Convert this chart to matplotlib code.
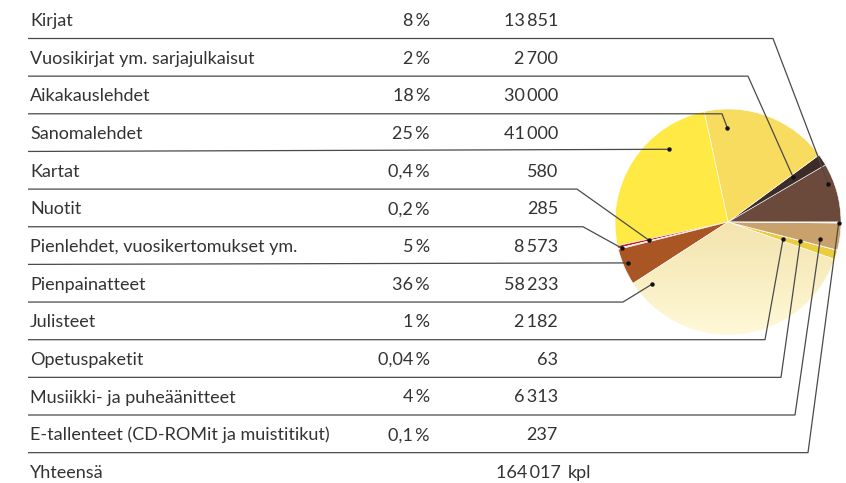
import matplotlib
matplotlib.use("Agg")
import matplotlib.pyplot as plt
import numpy as np
from matplotlib.colors import LinearSegmentedColormap

plt.rcParams.update({
    "font.family": ["Lato", "DejaVu Sans"],
    "font.size": 13,
})

TS = "\u2009"  # thin space, as in the printed table

# ── Data ──
labels = [
    "Kirjat", "Vuosikirjat ym. sarjajulkaisut", "Aikakauslehdet", "Sanomalehdet",
    "Kartat", "Nuotit", "Pienlehdet, vuosikertomukset ym.", "Pienpainatteet",
    "Julisteet", "Opetuspaketit", "Musiikki- ja puheäänitteet",
    "E-tallenteet (CD-ROMit ja muistitikut)",
]
pct_labels = ["8%", "2%", "18%", "25%", "0,4%", "0,2%", "5%", "36%",
              "1%", "0,04%", "4%", "0,1%"]
counts = [13851, 2700, 30000, 41000, 580, 285, 8573, 58233, 2182, 63, 6313, 237]
total_value = 164017
total_unit = "kpl"

colors = ["#6b4a3b", "#3d2b29", "#f8dc60", "#ffea45", "#c4142e", "#f3d2c8",
          "#a95624", "#fbf0c4", "#e9cd3c", "#d8b45a", "#c9a16c", "#f7ede4"]

# leader anchor: position inside wedge (angle fraction, radius fraction)
anchor_frac = [0.68, 0.73, 0.82, 0.30, 0.5, 0.5, 0.43, 0.05, 0.46, 0.5, 0.29, 0.5]
anchor_rad = [0.95, 0.70, 0.83, 0.83, 0.72, 0.97, 0.96, 0.87, 0.51, 0.66, 0.83, 0.98]
# x where the horizontal rule turns toward the pie (None = straight to anchor)
elbow_x = [773, 748, 722, None, 577, 583, None, 623, 765, 781, 795, 808]

W, H = 846, 483
fig = plt.figure(figsize=(W / 100, H / 100), dpi=100)
ax = fig.add_axes([0, 0, 1, 1])

def fy(y):
    return H - y

def fmt(n):
    return f"{n:,}".replace(",", TS)

CX, CY, R = 728, fy(222), 113
wedges, _ = ax.pie(counts, colors=colors, center=(CX, CY), radius=R,
                   startangle=0, counterclock=True, frame=True,
                   wedgeprops=dict(edgecolor="white", linewidth=0.4))

# gradient fill for the big pale slice
cmap = LinearSegmentedColormap.from_list("pale", ["#f2e2aa", "#fff9d8"])
grad = np.linspace(0, 1, 256).reshape(-1, 1)
img = ax.imshow(grad, cmap=cmap, extent=(CX - R, CX + R, CY - R, CY + 10),
                origin="upper", aspect="auto", zorder=1.5)
img.set_clip_path(wedges[7])
wedges[7].set_facecolor("none")
wedges[7].set_zorder(2)

ax.set_xlim(0, W)
ax.set_ylim(0, H)
ax.set_aspect("auto")
ax.axis("off")

TXT = "#333333"
LINE = "#4a4a4a"
row0, step = 21, 37.65
for i, lab in enumerate(labels):
    ty = row0 + step * i
    ly = ty + 17.5
    ax.text(30, fy(ty), lab, ha="left", va="center", color=TXT)
    ax.text(430, fy(ty), pct_labels[i].replace("%", TS + "%"), ha="right",
            va="center", color=TXT)
    ax.text(558, fy(ty), fmt(counts[i]), ha="right", va="center", color=TXT)

    w = wedges[i]
    ang = np.deg2rad(w.theta1 + anchor_frac[i] * (w.theta2 - w.theta1))
    axp = CX + anchor_rad[i] * R * np.cos(ang)
    ayp = CY + anchor_rad[i] * R * np.sin(ang)
    if elbow_x[i] is None:
        xs, ys = [28, axp], [fy(ly), ayp]
    else:
        xs, ys = [28, elbow_x[i], axp], [fy(ly), fy(ly), ayp]
    ax.plot(xs, ys, color=LINE, lw=0.9, zorder=4, solid_capstyle="butt")
    ax.plot([axp], [ayp], "o", color="#111111", ms=2.2, zorder=5)

ty = row0 + step * len(labels)
ax.text(30, fy(ty), "Yhteensä", ha="left", va="center", color=TXT)
ax.text(561, fy(ty), fmt(total_value), ha="right", va="center", color=TXT)
ax.text(568, fy(ty), total_unit, ha="left", va="center", color=TXT)

fig.savefig("out.png", dpi=100, facecolor="white")
plt.close(fig)
